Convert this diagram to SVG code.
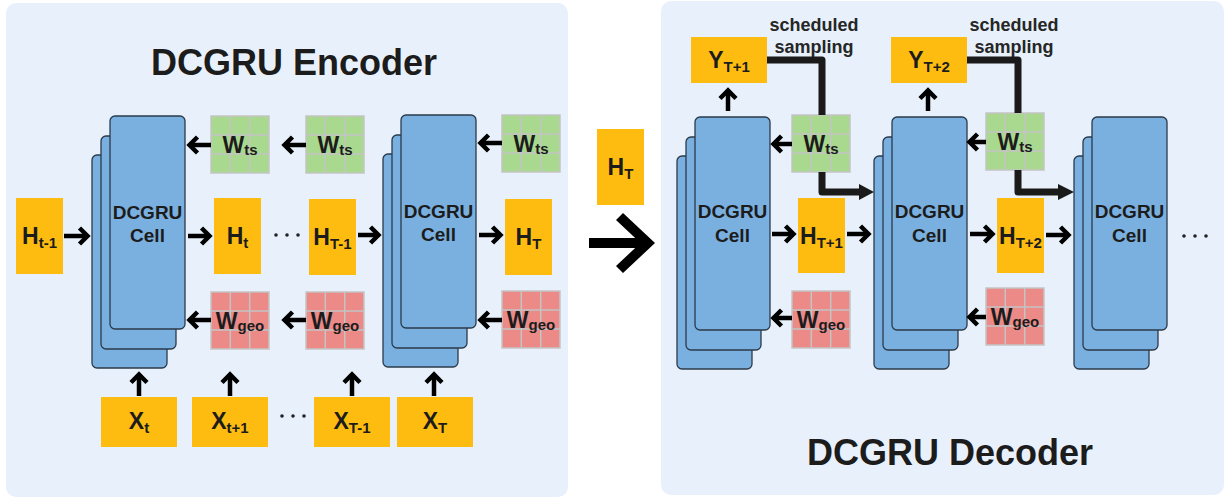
<svg xmlns="http://www.w3.org/2000/svg" width="1228" height="500" viewBox="0 0 1228 500">
<defs>
<style>
.panel{fill:#e8f1fb}
.card{fill:#7ab0e0;stroke:#2b3a4a;stroke-width:1.3}
.or{fill:#ffbc10}
.gts{fill:#a9d98e}
.ggeo{fill:#ec8a88}
.grid{fill:none;stroke:#c4c4c4;stroke-width:1.5}
text{font-family:"Liberation Sans",Arial,sans-serif;font-weight:bold;fill:#1c1c1c}
.title{font-size:36px}
.cell{font-size:19px}
.lb{font-size:23px}
.sub{font-size:15px}
.ss{font-size:18px;fill:#262626}
.ar{stroke:#000;stroke-width:4.5;fill:none}
.thick{stroke:#1a1a1a;stroke-width:7;fill:none;stroke-linejoin:round}
.dot{fill:#222}
</style>
<marker id="ch" viewBox="0 0 12 20" refX="9" refY="10" markerWidth="12" markerHeight="20" orient="auto" markerUnits="userSpaceOnUse" overflow="visible">
<path d="M1.5,2 L9.5,10 L1.5,18" fill="none" stroke="#000" stroke-width="4.5"/>
</marker>
<g id="gridlines">
<rect x="0" y="0" width="58" height="57" class="grid"/>
<path d="M19.3,0V57M38.7,0V57M0,19H58M0,38H58" class="grid"/>
</g>
<g id="stack">
<rect x="0" y="39" width="75" height="213" rx="5" class="card"/>
<rect x="9" y="20" width="75" height="213" rx="5" class="card"/>
<rect x="18" y="0" width="75" height="213" rx="5" class="card"/>
</g>
</defs>

<rect class="panel" x="6" y="3" width="562" height="494" rx="10"/>
<rect class="panel" x="661" y="1" width="563" height="494" rx="10"/>

<text class="title" x="294" y="75" text-anchor="middle">DCGRU Encoder</text>
<text class="title" x="950" y="465" text-anchor="middle">DCGRU Decoder</text>

<!-- Encoder cells -->
<g id="enc-cell1">
<use href="#stack" x="92" y="116"/>
<text class="cell" x="147.5" y="219" text-anchor="middle">DCGRU</text>
<text class="cell" x="147.5" y="242" text-anchor="middle">Cell</text>
</g>
<g id="enc-cell2">
<use href="#stack" x="383" y="115"/>
<text class="cell" x="438.5" y="218" text-anchor="middle">DCGRU</text>
<text class="cell" x="438.5" y="241" text-anchor="middle">Cell</text>
</g>

<!-- Encoder hidden states -->
<g id="enc-h-tm1"><rect class="or" x="16" y="198" width="47" height="76"/><text class="lb" x="39.5" y="244" text-anchor="middle">H<tspan class="sub" dy="4">t-1</tspan></text></g>
<g id="enc-h-t"><rect class="or" x="214" y="198" width="47" height="76"/><text class="lb" x="237.5" y="244" text-anchor="middle">H<tspan class="sub" dy="4">t</tspan></text></g>
<g id="enc-h-Tm1"><rect class="or" x="309" y="199" width="47" height="76"/><text class="lb" x="332.5" y="245" text-anchor="middle">H<tspan class="sub" dy="4">T-1</tspan></text></g>
<g id="enc-h-T"><rect class="or" x="505" y="199" width="47" height="76"/><text class="lb" x="528.5" y="245" text-anchor="middle">H<tspan class="sub" dy="4">T</tspan></text></g>

<!-- Encoder weights -->
<g id="enc-wts1"><rect class="gts" x="211" y="116" width="58" height="57"/><use href="#gridlines" x="211" y="116"/><text class="lb" x="240" y="153" text-anchor="middle">W<tspan class="sub" dy="2">ts</tspan></text></g>
<g id="enc-wts2"><rect class="gts" x="306" y="116" width="58" height="57"/><use href="#gridlines" x="306" y="116"/><text class="lb" x="335" y="153" text-anchor="middle">W<tspan class="sub" dy="2">ts</tspan></text></g>
<g id="enc-wts3"><rect class="gts" x="502" y="115" width="58" height="57"/><use href="#gridlines" x="502" y="115"/><text class="lb" x="531" y="152" text-anchor="middle">W<tspan class="sub" dy="2">ts</tspan></text></g>
<g id="enc-wgeo1"><rect class="ggeo" x="211" y="292" width="58" height="57"/><use href="#gridlines" x="211" y="292"/><text class="lb" x="240" y="329" text-anchor="middle">W<tspan class="sub" dy="2">geo</tspan></text></g>
<g id="enc-wgeo2"><rect class="ggeo" x="306" y="292" width="58" height="57"/><use href="#gridlines" x="306" y="292"/><text class="lb" x="335" y="329" text-anchor="middle">W<tspan class="sub" dy="2">geo</tspan></text></g>
<g id="enc-wgeo3"><rect class="ggeo" x="502" y="291" width="58" height="57"/><use href="#gridlines" x="502" y="291"/><text class="lb" x="531" y="328" text-anchor="middle">W<tspan class="sub" dy="2">geo</tspan></text></g>

<!-- Encoder inputs -->
<g id="enc-x-t"><rect class="or" x="101" y="397" width="76" height="50"/><text class="lb" x="139" y="429" text-anchor="middle">X<tspan class="sub" dy="4">t</tspan></text></g>
<g id="enc-x-t1"><rect class="or" x="192" y="397" width="76" height="50"/><text class="lb" x="230" y="429" text-anchor="middle">X<tspan class="sub" dy="4">t+1</tspan></text></g>
<g id="enc-x-Tm1"><rect class="or" x="314" y="397" width="76" height="50"/><text class="lb" x="352" y="429" text-anchor="middle">X<tspan class="sub" dy="4">T-1</tspan></text></g>
<g id="enc-x-T"><rect class="or" x="397" y="397" width="76" height="50"/><text class="lb" x="435" y="429" text-anchor="middle">X<tspan class="sub" dy="4">T</tspan></text></g>

<!-- Middle H_T -->
<g id="mid-h-T"><rect class="or" x="597" y="129" width="47" height="76"/><text class="lb" x="620.5" y="175" text-anchor="middle">H<tspan class="sub" dy="4">T</tspan></text></g>

<!-- Decoder cells -->
<g id="dec-cell1">
<use href="#stack" x="677" y="117"/>
<text class="cell" x="732.5" y="218" text-anchor="middle">DCGRU</text>
<text class="cell" x="732.5" y="242" text-anchor="middle">Cell</text>
</g>
<g id="dec-cell2">
<use href="#stack" x="874" y="117"/>
<text class="cell" x="929.5" y="218" text-anchor="middle">DCGRU</text>
<text class="cell" x="929.5" y="242" text-anchor="middle">Cell</text>
</g>
<g id="dec-cell3">
<use href="#stack" x="1074" y="117"/>
<text class="cell" x="1129.5" y="218" text-anchor="middle">DCGRU</text>
<text class="cell" x="1129.5" y="242" text-anchor="middle">Cell</text>
</g>

<!-- Decoder outputs -->
<g id="dec-y1"><rect class="or" x="691" y="37" width="76" height="46"/><text class="lb" x="729" y="68" text-anchor="middle">Y<tspan class="sub" dy="4">T+1</tspan></text></g>
<g id="dec-y2"><rect class="or" x="891" y="37" width="76" height="46"/><text class="lb" x="929" y="68" text-anchor="middle">Y<tspan class="sub" dy="4">T+2</tspan></text></g>

<g id="dec-h1"><rect class="or" x="798" y="198" width="47" height="75"/><text class="lb" x="821.5" y="244" text-anchor="middle">H<tspan class="sub" dy="4">T+1</tspan></text></g>
<g id="dec-h2"><rect class="or" x="997" y="198" width="47" height="75"/><text class="lb" x="1020.5" y="244" text-anchor="middle">H<tspan class="sub" dy="4">T+2</tspan></text></g>

<g id="dec-wts1"><rect class="gts" x="792" y="115" width="58" height="57"/><use href="#gridlines" x="792" y="115"/><text class="lb" x="821" y="152" text-anchor="middle">W<tspan class="sub" dy="2">ts</tspan></text></g>
<g id="dec-wts2"><rect class="gts" x="986" y="113" width="58" height="57"/><use href="#gridlines" x="986" y="113"/><text class="lb" x="1015" y="150" text-anchor="middle">W<tspan class="sub" dy="2">ts</tspan></text></g>
<g id="dec-wgeo1"><rect class="ggeo" x="792" y="291" width="58" height="57"/><use href="#gridlines" x="792" y="291"/><text class="lb" x="821" y="328" text-anchor="middle">W<tspan class="sub" dy="2">geo</tspan></text></g>
<g id="dec-wgeo2"><rect class="ggeo" x="986" y="288" width="58" height="57"/><use href="#gridlines" x="986" y="288"/><text class="lb" x="1015" y="325" text-anchor="middle">W<tspan class="sub" dy="2">geo</tspan></text></g>

<g id="ss-label1"><text class="ss" x="814" y="31" text-anchor="middle">scheduled</text><text class="ss" x="814" y="53" text-anchor="middle">sampling</text></g>
<g id="ss-label2"><text class="ss" x="1014" y="31" text-anchor="middle">scheduled</text><text class="ss" x="1014" y="53" text-anchor="middle">sampling</text></g>

<!-- Connectors -->
<g id="connectors">
<g class="ar" marker-end="url(#ch)">
<line x1="64" y1="236" x2="87" y2="236"/>
<line x1="188" y1="236" x2="209" y2="236"/>
<line x1="211" y1="145" x2="190" y2="145"/>
<line x1="306" y1="145" x2="285" y2="145"/>
<line x1="211" y1="320" x2="190" y2="320"/>
<line x1="306" y1="320" x2="285" y2="320"/>
<line x1="358" y1="235" x2="378" y2="235"/>
<line x1="479" y1="235" x2="500" y2="235"/>
<line x1="502" y1="143" x2="481" y2="143"/>
<line x1="502" y1="320" x2="481" y2="320"/>
<line x1="139" y1="396" x2="139" y2="375"/>
<line x1="230" y1="396" x2="230" y2="375"/>
<line x1="352" y1="396" x2="352" y2="375"/>
<line x1="434" y1="396" x2="434" y2="375"/>
<line x1="728" y1="111" x2="728" y2="91"/>
<line x1="928" y1="111" x2="928" y2="91"/>
<line x1="792" y1="144" x2="774" y2="144"/>
<line x1="792" y1="318" x2="774" y2="318"/>
<line x1="772" y1="234" x2="793" y2="234"/>
<line x1="847" y1="234" x2="868" y2="234"/>
<line x1="986" y1="142" x2="970" y2="142"/>
<line x1="986" y1="317" x2="970" y2="317"/>
<line x1="970" y1="234" x2="992" y2="234"/>
<line x1="1046" y1="235" x2="1068" y2="235"/>
</g>
<path class="thick" d="M767,60H822V115"/>
<path class="thick" d="M822,172V192H861"/>
<polygon points="859,184 874,192 859,200" fill="#1a1a1a"/>
<path class="thick" d="M967,60H1018V113"/>
<path class="thick" d="M1018,170V192H1060"/>
<polygon points="1058,184 1074,192 1058,200" fill="#1a1a1a"/>
<g id="big-arrow" fill="#000">
<rect x="589" y="238" width="53" height="10"/>
<polygon points="623,213 655,243 623,273 616,266 640.5,243 616,220"/>
</g>
</g>

<!-- ellipses -->
<g id="dots">
<circle class="dot" cx="276" cy="235" r="1.8"/><circle class="dot" cx="287" cy="235" r="1.8"/><circle class="dot" cx="298" cy="235" r="1.8"/>
<circle class="dot" cx="282" cy="416" r="1.8"/><circle class="dot" cx="293" cy="416" r="1.8"/><circle class="dot" cx="304" cy="416" r="1.8"/>
<circle class="dot" cx="1184" cy="236" r="1.8"/><circle class="dot" cx="1195" cy="236" r="1.8"/><circle class="dot" cx="1206" cy="236" r="1.8"/>
</g>
</svg>
